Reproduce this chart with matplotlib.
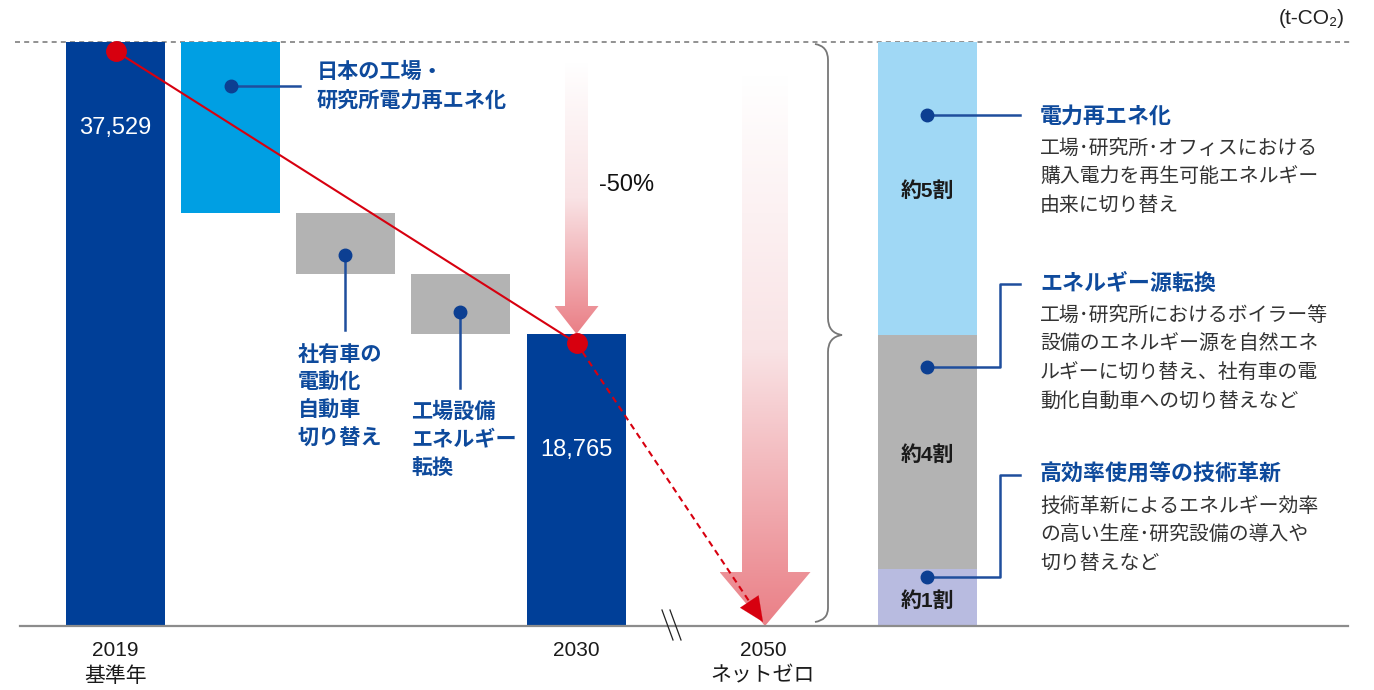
import numpy as np
import matplotlib.pyplot as plt
from matplotlib.patches import Polygon, PathPatch
from matplotlib.path import Path
from matplotlib.colors import LinearSegmentedColormap

plt.rcParams['font.family'] = ['Liberation Sans', 'Noto Sans CJK JP']

# CO2排出量 (t-CO2)
base_2019 = 37529
target_2030 = 18765
net_zero = 0

year_labels = ['2019\n基準年', '2030', '2050\nネットゼロ']

# 2030年までの削減内訳
step_labels = [['日本の工場・', '研究所電力再エネ化'],
               ['社有車の', '電動化', '自動車', '切り替え'],
               ['工場設備', 'エネルギー', '転換']]
step_values = [11000, 3882, 3882]

# 2050年までの削減内訳 (下から)
share_labels = ['約1割', '約4割', '約5割']
share_values = [3660, 15040, 18829]
share_titles = ['高効率使用等の技術革新', 'エネルギー源転換', '電力再エネ化']
share_texts = [['技術革新によるエネルギー効率', 'の高い生産･研究設備の導入や', '切り替えなど'],
               ['工場･研究所におけるボイラー等', '設備のエネルギー源を自然エネ',
                'ルギーに切り替え、社有車の電', '動化自動車への切り替えなど'],
               ['工場･研究所･オフィスにおける', '購入電力を再生可能エネルギー', '由来に切り替え']]

NAVY = '#003F98'
BLUE_TXT = '#0E4A9C'
RED = '#D7000F'
UNIT = base_2019 / 584.0


def Y(px):
    # 画面上の縦位置 -> t-CO2
    return base_2019 - (px - 42) * UNIT


fig = plt.figure(figsize=(13.74, 6.9), dpi=100)
ax = fig.add_axes([0, 0, 1, 1])
ax.axis('off')

# 基準線
ax.plot([15, 1350], [base_2019, base_2019], color='#7f7f7f', lw=1.2, ls=(0, (3, 2.5)), zorder=1)
ax.plot([20, 1348], [net_zero, net_zero], color='#8c8c8c', lw=1.6, zorder=5)

# 棒グラフ
bw = 99
ax.bar(115.5, base_2019, width=bw, color=NAVY, zorder=2)
ax.bar(576.5, target_2030, width=bw, color=NAVY, zorder=2)
step_x = [230.5, 345.5, 460.5]
step_colors = ['#009FE3', '#B3B3B3', '#B3B3B3']
top = base_2019
for x, v, c in zip(step_x, step_values, step_colors):
    ax.bar(x, v, bottom=top - v, width=bw, color=c, zorder=2)
    top -= v

ax.text(115.5, Y(128), f'{base_2019:,}', color='white', ha='center', va='center', fontsize=17, zorder=6)
ax.text(576.5, Y(450), f'{target_2030:,}', color='white', ha='center', va='center', fontsize=17, zorder=6)

# 年ラベル
for x, lab in zip([115.5, 576.5, 763], year_labels):
    for i, line in enumerate(lab.split('\n')):
        ax.text(x, Y(650 + i * 26), line, ha='center', va='center', fontsize=15, color='#1a1a1a')

# グラデーション矢印
pink = LinearSegmentedColormap.from_list('pink', ['#ffffff', '#F9E3E5', '#EA7F86'])


def grad_arrow(xc, sw, hw, y_top, y_head, y_tip):
    pts = [(xc - sw / 2, y_top), (xc + sw / 2, y_top), (xc + sw / 2, y_head), (xc + hw / 2, y_head),
           (xc, y_tip), (xc - hw / 2, y_head), (xc - sw / 2, y_head)]
    poly = Polygon(pts, closed=True, fc='none', ec='none')
    ax.add_patch(poly)
    g = np.linspace(0, 1, 256).reshape(-1, 1)
    im = ax.imshow(g, cmap=pink, aspect='auto', extent=[xc - hw / 2, xc + hw / 2, y_tip, y_top],
                   origin='upper', zorder=1.5)
    im.set_clip_path(poly)


grad_arrow(576.5, 23, 44, Y(62), target_2030 + 28 * UNIT, target_2030)
grad_arrow(765, 46, 91, Y(75), Y(572), net_zero)
ax.text(627, Y(185), '-50%', ha='center', va='center', fontsize=17, color='#111111')

# 削減推移ライン
off = 9 * UNIT
ax.plot([115.5, 576.5], [base_2019 - off, target_2030 - off], color=RED, lw=1.5, zorder=7)
ax.plot([115.5, 576.5], [base_2019 - off, target_2030 - off], 'o', color=RED, ms=14, zorder=8)
tip = (763, Y(622))
d = np.array([763 - 576.5, (622 - 343)])
d = d / np.hypot(*d)
hx, hy = 763 - 17 * d[0], 622 - 17 * d[1]
ax.plot([576.5, hx], [target_2030 - off, Y(hy)], color=RED, lw=1.5, ls=(0, (3, 2.2)), zorder=7)
ax.annotate('', xy=tip, xytext=(hx, Y(hy)),
            arrowprops=dict(arrowstyle='-|>,head_length=1.1,head_width=0.5', color=RED, lw=0.1,
                            shrinkA=0, shrinkB=0, mutation_scale=16), zorder=7)

# 省略記号 //
for dx in (0, 8):
    ax.plot([662 + dx, 673 + dx], [Y(610), Y(640)], color='#222222', lw=0.9, zorder=6)

# 中括弧
bx = 828
verts = [(815, 44), (828, 46), (bx, 60), (bx, 318), (bx, 333), (842, 335),
         (bx, 337), (bx, 352), (bx, 608), (828, 620), (815, 622)]
codes = [Path.MOVETO, Path.CURVE3, Path.CURVE3, Path.LINETO, Path.CURVE3, Path.CURVE3,
         Path.CURVE3, Path.CURVE3, Path.LINETO, Path.CURVE3, Path.CURVE3]
brace = Path([(x, Y(y)) for x, y in verts], codes)
ax.add_patch(PathPatch(brace, fc='none', ec='#777777', lw=1.3, zorder=3))

# 2050年の内訳 (積み上げ)
share_colors = ['#B8BBE0', '#B3B3B3', '#A0D8F5']
bottom = 0
share_mid = []
for v, c, lab in zip(share_values, share_colors, share_labels):
    ax.bar(927.5, v, bottom=bottom, width=bw, color=c, zorder=2)
    share_mid.append(bottom + v / 2)
    bottom += v
for m, lab in zip(share_mid, share_labels):
    ax.text(927.5, m - 3 * UNIT, lab, ha='center', va='center', fontsize=15, fontweight='bold',
            color='#1a1a1a', zorder=6)

# 2030年内訳の注記
ann_color = '#1F4E9D'
ax.plot([231, 300], [Y(86), Y(86)], color=ann_color, lw=1.8, zorder=4)
ax.plot([345, 345], [Y(255), Y(330)], color=ann_color, lw=1.8, zorder=4)
ax.plot([460, 460], [Y(312), Y(388)], color=ann_color, lw=1.8, zorder=4)
ax.plot([231, 345, 460], [Y(86), Y(255), Y(312)], 'o', color='#0C3F92', ms=9, zorder=5)
for (x0, y0, dy), lines in zip([(317, 72, 29), (298, 355, 27.7), (411, 412, 28)], step_labels):
    for i, line in enumerate(lines):
        ax.text(x0, Y(y0 + i * dy), line, ha='left', va='center', fontsize=15.2, fontweight='bold',
                color=BLUE_TXT, zorder=6)

# 2050年内訳の注記
title_y = [475, 284, 117]
dot_y = [577, 367, 115]
for ty, dy_, title, texts in zip(title_y, dot_y, share_titles, share_texts):
    if abs(ty - dy_) < 5:
        ax.plot([927, 1020], [Y(dy_), Y(dy_)], color=ann_color, lw=1.8, zorder=4)
    else:
        ax.plot([927, 1000, 1000, 1020], [Y(dy_), Y(dy_), Y(ty), Y(ty)], color=ann_color, lw=1.8, zorder=4)
    ax.plot(927, Y(dy_), 'o', color='#0C3F92', ms=9, zorder=5)
    ax.text(1040, Y(ty), title, ha='left', va='center', fontsize=15.8, fontweight='bold', color=BLUE_TXT)
    for i, line in enumerate(texts):
        ax.text(1040, Y(ty + 31 + i * 28.7), line, ha='left', va='center', fontsize=14.3, color='#333333')

ax.text(1345, Y(18), '(t-CO₂)', ha='right', va='center', fontsize=15, color='#222222')

ax.set_xlim(0, 1374)
ax.set_ylim(Y(690), Y(0))
fig.savefig('out.png', dpi=100, facecolor='white')
